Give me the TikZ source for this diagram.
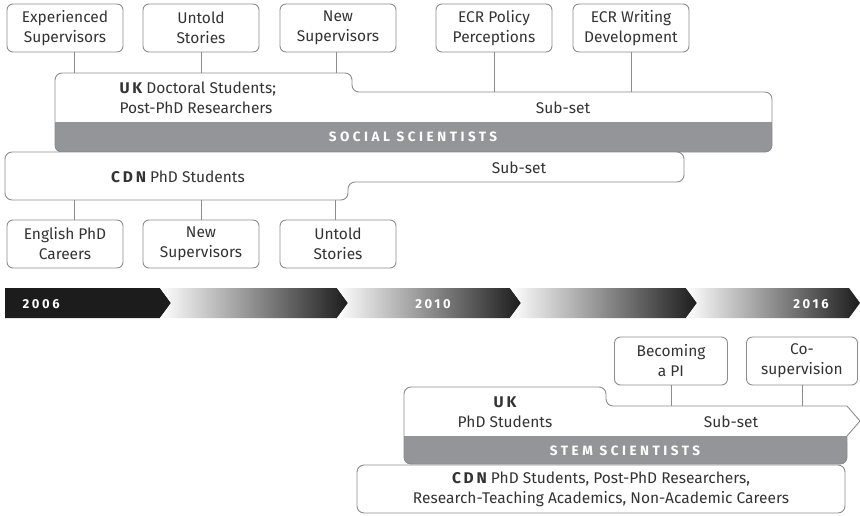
\documentclass[tikz,border=0pt]{standalone}
\usepackage{fontspec}
\setmainfont{Fira Sans}
\usepackage{tikz}
\usetikzlibrary{positioning,calc}
\definecolor{darkgrey}{RGB}{51,51,51}
\definecolor{linegrey}{RGB}{140,140,140}
\definecolor{bandgrey}{RGB}{147,149,152}
\definecolor{nearblack}{RGB}{28,28,28}
\newcommand{\spaced}[1]{{\bfseries\addfontfeatures{LetterSpace=18}#1}}

\begin{document}
\begin{tikzpicture}[x=1pt, y=-1pt,
  every node/.style={font=\fontsize{15.5}{20}\selectfont, text=darkgrey},
  project/.style={rectangle, draw=linegrey, line width=0.9pt, rounded corners=6pt, minimum width=116pt, minimum height=48pt, align=center, inner sep=1pt},
  block/.style={draw=linegrey, line width=0.9pt, rounded corners=7pt},
  band/.style={fill=bandgrey, rounded corners=6pt},
  bandtext/.style={text=white, font=\fontsize{13.5}{15}\selectfont\bfseries\addfontfeatures{LetterSpace=26}},
  year/.style={text=white, font=\fontsize{13}{15}\selectfont\bfseries\addfontfeatures{LetterSpace=20}},
  link/.style={draw=linegrey, line width=0.9pt}]
  \useasboundingbox (0,0) rectangle (860,515);

  % timeline
  \fill[nearblack] (5,288) -- (160,288) -- (171,303) -- (160,318) -- (5,318) -- cycle;
  \foreach \a/\b in {171/348, 348/521, 521/697, 697/860}
    \shade[left color=white, right color=nearblack] (\a-11,288) -- (\b-11,288) -- (\b,303) -- (\b-11,318) -- (\a-11,318) -- (\a,303) -- cycle;
  \node[year, anchor=west] (y2006) at (19,304) {2006};
  \node[year] (y2010) at (433,304) {2010};
  \node[year] (y2016) at (811,304) {2016};

  % social scientists, UK
  \coordinate (uk-nw) at (55,73);
  \coordinate (uk-step) at (352,92);
  \fill[white, block, draw=none] (55,152) -- (uk-nw) -- (352,73) -- (uk-step) -- (772,92) -- (772,152) -- cycle;
  \fill[band] (55,122) rectangle (772,152);
  \fill[bandgrey] (55,122) rectangle (772,135);
  \draw[block] (55,152) -- (uk-nw) -- (352,73) -- (uk-step) -- (772,92) -- (772,152) -- cycle;
  \node[anchor=west, align=left] (ukss) at (116,98) {\spaced{UK} Doctoral Students;\\Post-PhD Researchers};
  \node (ukss-sub) at (563,108) {Sub-set};
  \node[bandtext] (social) at (413,137) {SOCIAL SCIENTISTS};

  % social scientists, CDN
  \coordinate (cdn-sw) at (5,200);
  \coordinate (cdn-step) at (348,182);
  \draw[block, fill=white] (5,152) -- (684,152) -- (684,182) -- (cdn-step) -- (348,200) -- (cdn-sw) -- cycle;
  \node (cdnss) at (178,177) {\spaced{CDN} PhD Students};
  \node (cdnss-sub) at (519,168) {Sub-set};

  % projects above and below
  \node[project] (exp) at (65,28) {Experienced\\Supervisors};
  \node[project] (untold) at (201,28) {Untold\\Stories};
  \node[project] (newsup) at (338,28) {New\\Supervisors};
  \node[project] (policy) at (494,28) {ECR Policy\\Perceptions};
  \node[project] (writing) at (631,28) {ECR Writing\\Development};
  \node[project] (english) at (65,244) {English PhD\\Careers};
  \node[project] (newsup2) at (201,244) {New\\Supervisors};
  \node[project] (untold2) at (338,244) {Untold\\Stories};

  \draw[link] ([xshift=9pt]exp.south) -- ([xshift=9pt]exp.south |- uk-nw);
  \draw[link] (untold.south) -- (untold.south |- uk-nw);
  \draw[link] ([xshift=-2pt]newsup.south) -- ([xshift=-2pt]newsup.south |- uk-nw);
  \draw[link] (policy.south) -- (policy.south |- uk-step);
  \draw[link] (writing.south) -- (writing.south |- uk-step);
  \draw[link] ([xshift=9pt]english.north) -- ([xshift=9pt]english.north |- cdn-sw);
  \draw[link] (newsup2.north) -- (newsup2.north |- cdn-sw);
  \draw[link] ([xshift=-3pt]untold2.north) -- ([xshift=-3pt]untold2.north |- cdn-sw);

  % stem scientists
  \coordinate (stem-step) at (606,406);
  \fill[white, rounded corners=7pt] (847,406) -- (stem-step) -- (606,387) -- (404,387) -- (404,464) -- (847,464) -- cycle;
  \fill[white] (847,406) -- (860,421) -- (847,436) -- cycle;
  \fill[band] (404,436) rectangle (847,464);
  \fill[bandgrey] (404,436) rectangle (847,450);
  \draw[block] (847,406) -- (stem-step) -- (606,387) -- (404,387) -- (404,464) -- (847,464) -- (847,436);
  \draw[link, line join=miter] (847,406) -- (860,421) -- (847,436);
  \node[align=center] (ukstem) at (505,412) {\spaced{UK}\\PhD Students};
  \node (stem-sub) at (731,422) {Sub-set};
  \node[bandtext] (stem) at (625,451) {STEM SCIENTISTS};
  \draw[block, fill=white] (357,465) rectangle (845,513);
  \node[align=center] (cdnstem) at (601,489) {\spaced{CDN} PhD Students, Post-PhD Researchers,\\Research-Teaching Academics, Non-Academic Careers};

  \node[project, minimum width=113pt] (becoming) at (671,361) {Becoming\\a PI};
  \node[project, minimum width=111pt] (cosup) at (802,361) {Co-\\supervision};
  \draw[link] (becoming.south) -- (becoming.south |- stem-step);
  \draw[link] (cosup.south) -- (cosup.south |- stem-step);
\end{tikzpicture}
\end{document}
